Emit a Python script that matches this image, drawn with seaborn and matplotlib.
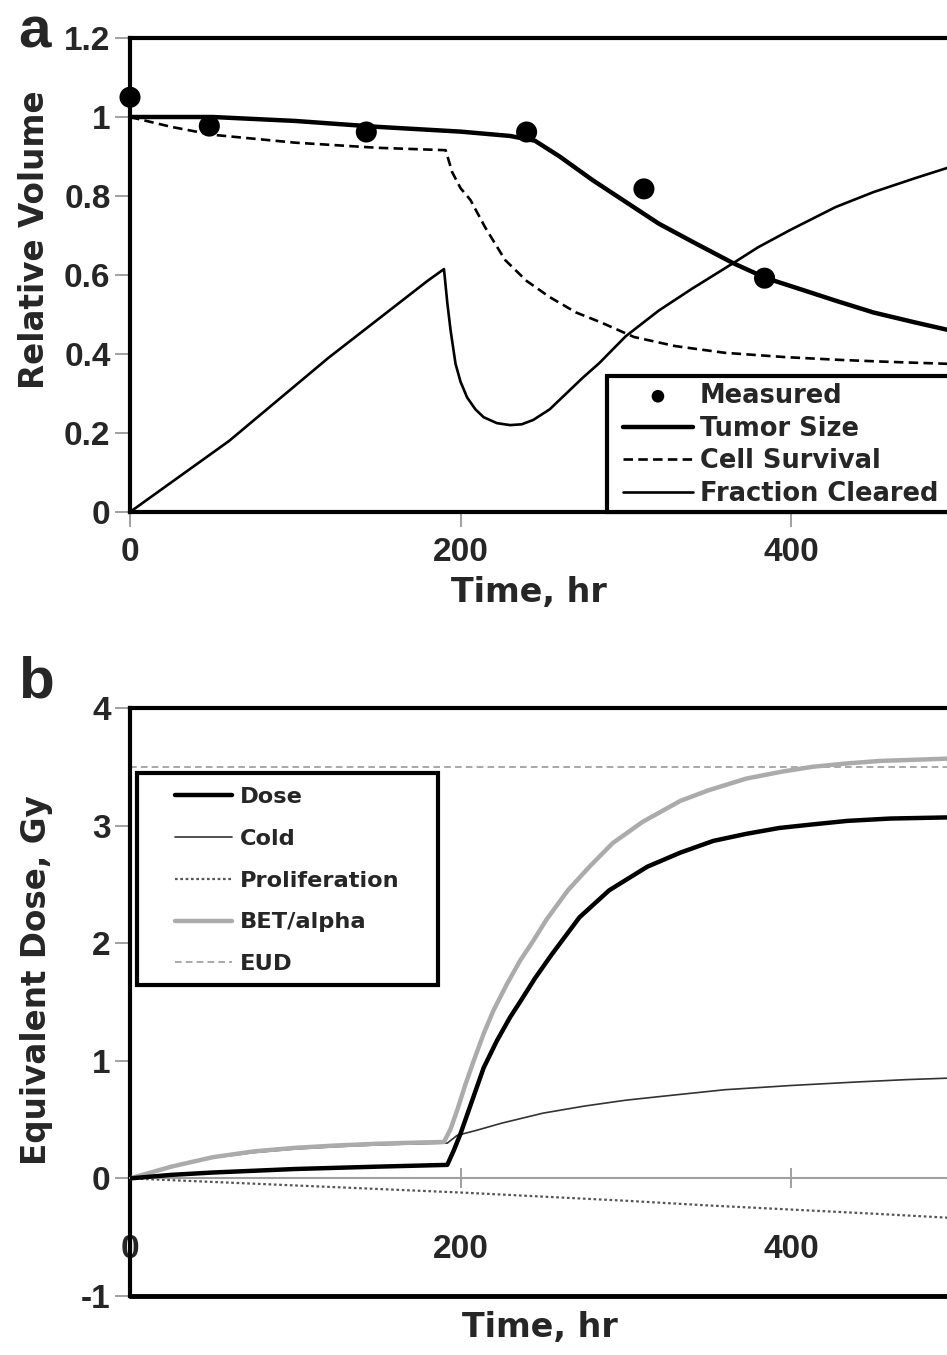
import numpy as np
import pandas as pd
import matplotlib
matplotlib.use("Agg")
import matplotlib.pyplot as plt
from matplotlib.patches import Rectangle
import seaborn as sns

# ---------------- Panel a data ----------------
measured_t = [0, 48, 143, 240, 311, 384]
measured_v = [1.05, 0.977, 0.962, 0.962, 0.818, 0.592]

tumor_t = [0, 50, 100, 150, 200, 230, 245, 260, 280, 300, 320, 340, 365, 385, 405, 427, 450, 475, 496]
tumor_v = [1.0, 1.0, 0.99, 0.975, 0.963, 0.952, 0.94, 0.90, 0.84, 0.785, 0.73, 0.685, 0.63, 0.592, 0.565,
           0.535, 0.505, 0.48, 0.46]

survival_t = [0, 25, 50, 100, 150, 191, 195, 200, 206, 215, 227, 240, 254, 270, 285, 305, 330, 360, 397,
              430, 460, 496]
survival_v = [1.0, 0.975, 0.955, 0.935, 0.922, 0.916, 0.86, 0.82, 0.79, 0.72, 0.638, 0.585, 0.544, 0.505,
              0.48, 0.443, 0.42, 0.403, 0.392, 0.385, 0.38, 0.375]

cleared_t = [0, 20, 40, 60, 80, 100, 120, 140, 160, 180, 190, 192, 194, 197, 200, 204, 209, 214, 222, 230,
             237, 244, 254, 264, 274, 284, 300, 320, 340, 365, 380, 400, 427, 450, 475, 496]
cleared_v = [0, 0.06, 0.12, 0.18, 0.25, 0.32, 0.39, 0.455, 0.52, 0.585, 0.615, 0.53, 0.46, 0.375, 0.33,
             0.29, 0.26, 0.24, 0.225, 0.22, 0.222, 0.233, 0.26, 0.30, 0.34, 0.377, 0.445, 0.51, 0.565, 0.63,
             0.67, 0.715, 0.772, 0.81, 0.845, 0.873]

a_xticks = [0, 200, 400]
a_xticklabels = ["0", "200", "400"]
a_yticks = [0, 0.2, 0.4, 0.6, 0.8, 1.0, 1.2]
a_yticklabels = ["0", "0.2", "0.4", "0.6", "0.8", "1", "1.2"]

# ---------------- Panel b data ----------------
dose_t = [0, 25, 50, 75, 100, 150, 192, 196, 200, 207, 214, 222, 230, 236, 245, 255, 272, 290, 313, 333,
          353, 373, 393, 413, 434, 460, 496]
dose_v = [0, 0.03, 0.05, 0.065, 0.08, 0.1, 0.115, 0.24, 0.38, 0.66, 0.94, 1.17, 1.37, 1.5, 1.7, 1.9, 2.22,
          2.45, 2.65, 2.77, 2.87, 2.93, 2.98, 3.01, 3.04, 3.06, 3.07]

cold_t = [0, 25, 50, 75, 100, 125, 150, 175, 192, 198, 210, 225, 250, 275, 300, 330, 360, 400, 440, 470, 496]
cold_v = [0, 0.1, 0.175, 0.22, 0.25, 0.27, 0.285, 0.295, 0.3, 0.366, 0.41, 0.47, 0.555, 0.615, 0.665, 0.71,
          0.754, 0.79, 0.82, 0.84, 0.853]

prolif_t = [0, 50, 100, 150, 200, 250, 300, 350, 400, 450, 496]
prolif_v = [0, -0.03, -0.06, -0.09, -0.12, -0.155, -0.19, -0.23, -0.265, -0.30, -0.335]

bet_t = [0, 10, 25, 50, 75, 100, 125, 150, 175, 190, 194, 198, 203, 208, 214, 220, 228, 236, 244, 252, 265,
         278, 292, 310, 333, 350, 373, 395, 413, 435, 454, 475, 496]
bet_v = [0, 0.04, 0.1, 0.18, 0.23, 0.26, 0.28, 0.295, 0.305, 0.31, 0.42, 0.58, 0.8, 1.0, 1.23, 1.43, 1.65,
         1.85, 2.02, 2.2, 2.45, 2.65, 2.85, 3.03, 3.21, 3.3, 3.4, 3.46, 3.5, 3.53, 3.55, 3.56, 3.57]

eud_value = 3.5

b_xticks = [0, 200, 400]
b_xticklabels = ["0", "200", "400"]
b_yticks = [-1, 0, 1, 2, 3, 4]
b_yticklabels = ["-1", "0", "1", "2", "3", "4"]

# ---------------- Style ----------------
sns.set_style("white")
plt.rcParams["font.family"] = ["Liberation Sans", "DejaVu Sans"]
plt.rcParams["font.weight"] = "bold"
plt.rcParams["axes.labelweight"] = "bold"
WIDE = ["DejaVu Sans", "Liberation Sans"]

W, H = 947, 1355
fig = plt.figure(figsize=(W / 100, H / 100), dpi=100)

px_per_hr = 1.6525
xmax = W / px_per_hr  # axes run past the right edge of the figure

axA = fig.add_axes([130 / W, 1 - 512 / H, 1.0, (512 - 38) / H])
axB = fig.add_axes([130 / W, 1 - 1296 / H, 1.0, (1296 - 708) / H])

# ---------------- Panel a ----------------
sns.lineplot(x=tumor_t, y=tumor_v, ax=axA, color="black", lw=3.2, label="Tumor Size", sort=False)
sns.lineplot(x=survival_t, y=survival_v, ax=axA, color="black", lw=1.9, label="Cell Survival", sort=False)
axA.lines[-1].set_dashes([3.6, 2.0])
sns.lineplot(x=cleared_t, y=cleared_v, ax=axA, color="black", lw=1.9, label="Fraction Cleared", sort=False)
sns.scatterplot(x=measured_t, y=measured_v, ax=axA, color="black", s=230, edgecolor="none",
                label="Measured", zorder=5, clip_on=False)

axA.set_xticks(a_xticks)
axA.set_xticklabels(a_xticklabels)
axA.set_yticks(a_yticks)
axA.set_yticklabels(a_yticklabels)
axA.set_xlim(0, xmax)
axA.set_ylim(0, 1.2)
for sp in ["left", "top", "bottom"]:
    axA.spines[sp].set_visible(True)
    axA.spines[sp].set_color("black")
    axA.spines[sp].set_linewidth(3)
axA.spines["right"].set_visible(False)
axA.tick_params(axis="both", which="both", direction="out", length=11, width=1.3, color="#999999",
                labelsize=24, bottom=True, left=True)
axA.tick_params(axis="x", pad=7)
axA.tick_params(axis="y", pad=3)
axA.set_xlabel("Time, hr", fontsize=24, fontweight="bold", family=WIDE)
axA.set_ylabel("Relative Volume", fontsize=23.5, fontweight="bold", family=WIDE)
axA.xaxis.set_label_coords((529 - 130) / W, (512 - 576) / 474)
axA.yaxis.set_label_coords((51 - 130) / W, (512 - 240) / 474)

# legend a: frame drawn as a patch that runs off the right edge
axA.add_patch(Rectangle(((607 - 130) / W, 0.0), 0.7, (512 - 376) / 474, transform=axA.transAxes,
                        facecolor="white", edgecolor="black", lw=3, clip_on=False, zorder=4.5))
handles, labels = axA.get_legend_handles_labels()
hmap = dict(zip(labels, handles))
order = ["Measured", "Tumor Size", "Cell Survival", "Fraction Cleared"]
legA = axA.legend([hmap[k] for k in order], order, loc="upper left",
                  bbox_to_anchor=((623 - 130) / W, (512 - 383) / 474), borderaxespad=0, borderpad=0,
                  frameon=False, handlelength=2.72, handletextpad=0.27, labelspacing=0.26,
                  markerscale=0.6, prop={"weight": "bold", "size": 18.5, "family": WIDE})
legA.set_zorder(6)

# ---------------- Panel b ----------------
sns.lineplot(x=bet_t, y=bet_v, ax=axB, color="#ababab", lw=3.2, label="BET/alpha", sort=False, zorder=3)
sns.lineplot(x=cold_t, y=cold_v, ax=axB, color="#333333", lw=1.2, label="Cold", sort=False, zorder=2)
sns.lineplot(x=dose_t, y=dose_v, ax=axB, color="black", lw=3.2, label="Dose", sort=False, zorder=4)
sns.lineplot(x=prolif_t, y=prolif_v, ax=axB, color="#555555", lw=1.6, label="Proliferation", sort=False)
axB.lines[-1].set_dashes([1.2, 1.2])
eud_line = axB.axhline(eud_value, color="#9a9a9a", lw=1.2, label="EUD", zorder=1)
eud_line.set_dashes([4, 2.5])

axB.set_xticks(b_xticks)
axB.set_xticklabels(b_xticklabels)
axB.set_yticks(b_yticks)
axB.set_yticklabels(b_yticklabels)
axB.set_xlim(0, xmax)
axB.set_ylim(-1, 4)
for sp in ["left", "top"]:
    axB.spines[sp].set_visible(True)
    axB.spines[sp].set_color("black")
    axB.spines[sp].set_linewidth(3)
axB.spines["right"].set_visible(False)
axB.spines["bottom"].set_visible(True)
axB.spines["bottom"].set_position(("data", 0))
axB.spines["bottom"].set_color("#a0a0a0")
axB.spines["bottom"].set_linewidth(1.5)
axB.axhline(-1, color="black", lw=3.5, clip_on=False, zorder=6)
axB.tick_params(axis="y", direction="out", length=11, width=1.3, color="#999999", labelsize=24, pad=3,
                left=True)
axB.tick_params(axis="x", direction="inout", length=14, width=1.3, color="#999999", labelsize=24, pad=33,
                bottom=True)
axB.set_xlabel("Time, hr", fontsize=24, fontweight="bold", family=WIDE)
axB.set_ylabel("Equivalent Dose, Gy", fontsize=23.5, fontweight="bold", family=WIDE)
axB.xaxis.set_label_coords((540 - 130) / W, (1296 - 1311) / 588)
axB.yaxis.set_label_coords((53 - 130) / W, (1296 - 980) / 588)

axB.add_patch(Rectangle(((137 - 130) / W, (1296 - 985) / 588), (438 - 137) / W, (985 - 773) / 588,
                        transform=axB.transAxes, facecolor="white", edgecolor="black", lw=3,
                        clip_on=False, zorder=4.5))
handles, labels = axB.get_legend_handles_labels()
hmap = dict(zip(labels, handles))
orderB = ["Dose", "Cold", "Proliferation", "BET/alpha", "EUD"]
legB = axB.legend([hmap[k] for k in orderB], orderB, loc="upper left",
                  bbox_to_anchor=((175 - 130) / W, (1296 - 787) / 588), borderaxespad=0, borderpad=0,
                  frameon=False, handlelength=2.53, handletextpad=0.36, labelspacing=0.97,
                  prop={"weight": "bold", "size": 16.2, "family": WIDE})
legB.set_zorder(6)

# panel letters
fig.text(18 / W, 1 - 47 / H, "a", fontsize=42, fontweight="bold", ha="left", va="baseline")
fig.text(18 / W, 1 - 698 / H, "b", fontsize=42, fontweight="bold", ha="left", va="baseline")

fig.savefig("out.png", dpi=100)
